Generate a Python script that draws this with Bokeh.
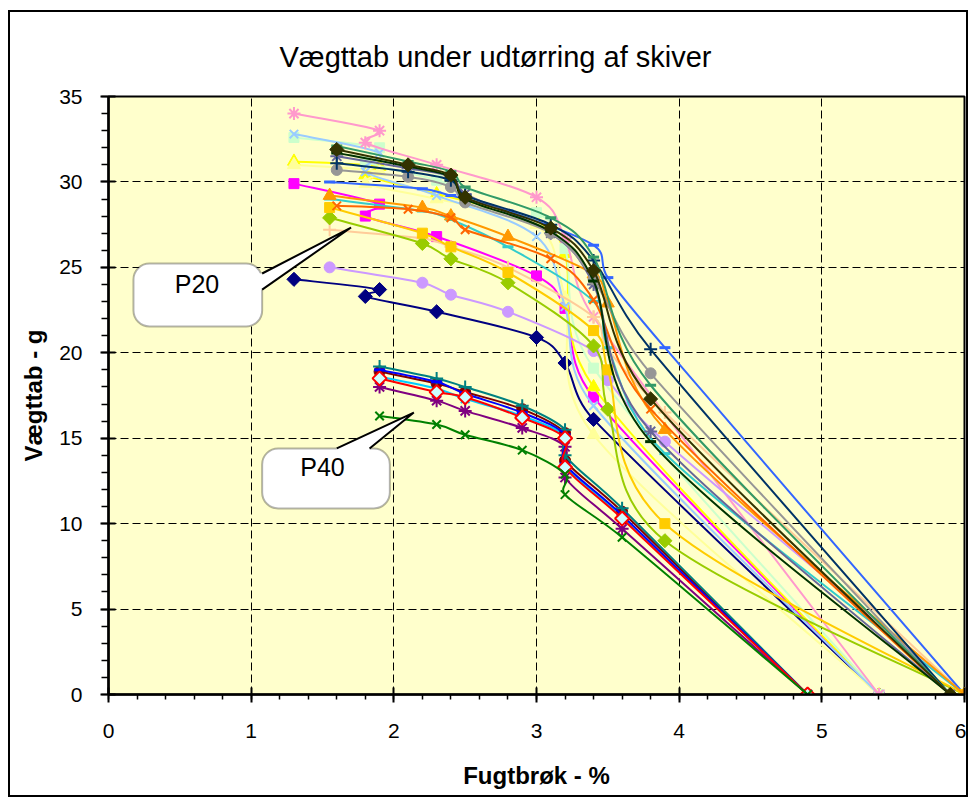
import math
from bokeh.plotting import figure
from bokeh.models import SingleIntervalTicker, Range1d, BoxAnnotation, Label, Title
from bokeh.embed import file_html
from bokeh.resources import INLINE

# ---------------- data ----------------
TITLE = "Vægttab under udtørring af skiver"
X_LABEL = "Fugtbrøk - %"
Y_LABEL = "Vægttab - g"

X_A = [1.3, 1.9, 1.8, 2.3, 3.0, 3.2, 3.4, 5.4]
X_B = [1.55, 2.2, 2.4, 2.8, 3.4, 3.5, 3.9, 6.0]
X_C = [1.6, 2.1, 2.4, 2.5, 3.1, 3.4, 3.8, 5.9]
X_P40 = [1.9, 2.3, 2.5, 2.9, 3.2, 3.2, 3.6, 4.9]

NAVY_Y = [24.3, 23.7, 23.3, 22.4, 20.9, 19.4, 16.1, 0]
MAGENTA_Y = [29.9, 28.7, 28.0, 26.8, 24.5, 22.6, 17.4, 0]
YELLOW_Y = [31.2, 30.9, 30.4, 29.3, 27.7, 25.8, 18.0, 0]
MINT_Y = [32.6, 32.0, 31.2, 30.1, 28.2, 26.1, 19.1, 0]
LTYELLOW_Y = [31.0, 30.6, 29.9, 29.0, 27.5, 23.2, 15.2, 0]
PALEBLUE_Y = [32.8, 31.7, 30.6, 29.2, 26.8, 22.7, 16.9, 0]
ROSE_Y = [34.0, 33.0, 32.3, 31.0, 29.1, 26.7, 22.1, 0]

LAVENDER_Y = [25.0, 24.1, 23.4, 22.4, 20.1, 18.4, 14.8, 0]
TAN_Y = [27.2, 26.7, 26.2, 25.0, 22.1, 20.2, 16.5, 0]
BLUE2_Y = [30.0, 29.6, 29.2, 28.3, 26.3, 24.4, 20.3, 0]
AQUA_Y = [29.0, 28.3, 27.8, 26.2, 23.0, 20.3, 14.1, 0]
LIME_Y = [27.9, 26.4, 25.5, 24.1, 20.4, 16.7, 9.0, 0]
GOLD_Y = [28.5, 27.0, 26.2, 24.7, 21.3, 19.0, 10.0, 0]
ORANGE_Y = [29.2, 28.5, 28.0, 26.8, 24.6, 22.9, 15.5, 0]

ORANGE2_Y = [28.6, 28.4, 27.9, 27.2, 25.5, 23.1, 16.7, 0]
BLUEGRAY_Y = [31.5, 30.8, 30.3, 29.3, 27.0, 24.0, 15.4, 0]
GRAY_Y = [30.7, 30.3, 29.7, 28.8, 27.0, 24.3, 18.8, 0]
DARKTEAL_Y = [31.1, 30.6, 30.1, 29.2, 27.5, 25.4, 20.2, 0]
SEAGREEN_Y = [32.1, 31.2, 30.6, 29.7, 27.9, 25.6, 18.1, 0]
DARKGREEN_Y = [31.7, 30.9, 30.3, 29.0, 27.1, 24.2, 14.8, 0]
OLIVE_Y = [31.9, 31.0, 30.4, 29.1, 27.3, 24.8, 17.3, 0]

CYAN_Y = [18.6, 17.9, 17.3, 16.3, 15.1, 13.4, 10.4, 0]
PURPLE_Y = [18.0, 17.2, 16.6, 15.6, 14.5, 12.7, 9.7, 0]
DARKRED_Y = [18.9, 18.2, 17.7, 16.7, 15.3, 13.7, 10.7, 0]
TEAL_Y = [19.2, 18.5, 18.0, 16.9, 15.5, 14.0, 10.9, 0]
BLUE_Y = [19.0, 18.3, 17.6, 16.5, 15.2, 13.5, 10.5, 0]
RED_Y = [18.5, 17.7, 17.4, 16.2, 15.0, 13.3, 10.3, 0]
GREEN_Y = [16.3, 15.8, 15.2, 14.3, 12.9, 11.7, 9.2, 0]

# (x, y, line colour, marker, marker fill, marker line) in drawing order
SERIES = [
    (X_A, NAVY_Y, "#000080", "diamond", "#000080", "#000080"),
    (X_A, MAGENTA_Y, "#FF00FF", "square", "#FF00FF", "#FF00FF"),
    (X_A, YELLOW_Y, "#FFFF00", "triangle", "#FFFF00", "#FFFF00"),
    (X_P40, CYAN_Y, "#00CCFF", "x", None, "#00CCFF"),
    (X_P40, PURPLE_Y, "#800080", "asterisk", None, "#800080"),
    (X_P40, DARKRED_Y, "#800000", "circle", "#800000", "#800000"),
    (X_P40, TEAL_Y, "#008080", "cross", None, "#008080"),
    (X_P40, BLUE_Y, "#0000FF", "dash", None, "#0000FF"),
    (X_P40, RED_Y, "#FF0000", "diamond", "#CCFFFF", "#FF0000"),
    (X_A, MINT_Y, "#CCFFCC", "square", "#CCFFCC", "#CCFFCC"),
    (X_A, LTYELLOW_Y, "#FFFF99", "triangle", "#FFFF99", "#FFFF99"),
    (X_A, PALEBLUE_Y, "#99CCFF", "x", None, "#99CCFF"),
    (X_A, ROSE_Y, "#FF99CC", "asterisk", None, "#FF99CC"),
    (X_B, LAVENDER_Y, "#CC99FF", "circle", "#CC99FF", "#CC99FF"),
    (X_B, TAN_Y, "#FFCC99", "cross", None, "#FFCC99"),
    (X_B, BLUE2_Y, "#3366FF", "dash", None, "#3366FF"),
    (X_B, AQUA_Y, "#33CCCC", "dash", None, "#33CCCC"),
    (X_B, LIME_Y, "#99CC00", "diamond", "#99CC00", "#99CC00"),
    (X_B, GOLD_Y, "#FFCC00", "square", "#FFCC00", "#FFCC00"),
    (X_B, ORANGE_Y, "#FF9900", "triangle", "#FF9900", "#FF9900"),
    (X_C, ORANGE2_Y, "#FF6600", "x", None, "#FF6600"),
    (X_C, BLUEGRAY_Y, "#666699", "asterisk", None, "#666699"),
    (X_C, GRAY_Y, "#969696", "circle", "#969696", "#969696"),
    (X_C, DARKTEAL_Y, "#003366", "cross", None, "#003366"),
    (X_C, SEAGREEN_Y, "#339966", "dash", None, "#339966"),
    (X_C, DARKGREEN_Y, "#003300", "dash", None, "#003300"),
    (X_C, OLIVE_Y, "#333300", "diamond", "#333300", "#333300"),
    (X_P40, GREEN_Y, "#008000", "x", None, "#008000"),
]

# ---------------- layout ----------------
W, H = 960, 787
ML, MR, MT, MB = 98, 6, 84, 105
FW, FH = W - ML - MR, H - MT - MB
XMAX, YMAX = 6, 35
SX, SY = FW / XMAX, FH / YMAX
FONT = "Liberation Sans"

p = figure(width=W, height=H, output_backend="svg", toolbar_location=None,
           x_range=Range1d(0, XMAX), y_range=Range1d(0, YMAX),
           min_border_left=ML, min_border_right=MR,
           min_border_top=MT, min_border_bottom=MB, title=None)
p.margin = (10, 0, 0, 8)
p.styles = {"border": "2px solid black"}
p.background_fill_color = "#FFFFCC"
p.border_fill_color = "white"
p.outline_line_color = "black"
p.outline_line_width = 2

p.add_layout(Title(text=TITLE, align="left", offset=171, standoff=48,
                   text_font=FONT, text_font_size="29px", text_font_style="normal",
                   text_color="black"), "above")

p.xaxis.ticker = SingleIntervalTicker(interval=1, num_minor_ticks=5)
p.yaxis.ticker = SingleIntervalTicker(interval=5, num_minor_ticks=5)
for ax in (p.xaxis, p.yaxis):
    ax.axis_line_color = "black"
    ax.axis_line_width = 2.5
    ax.major_tick_line_color = "black"
    ax.major_tick_line_width = 2
    ax.minor_tick_line_color = "black"
    ax.minor_tick_line_width = 1.5
    ax.major_tick_in = 7
    ax.major_tick_out = 8
    ax.minor_tick_in = 0
    ax.major_label_text_font = FONT
    ax.major_label_text_font_size = "21px"
    ax.major_label_text_color = "black"
    ax.axis_label_text_font = FONT
    ax.axis_label_text_font_size = "24px"
    ax.axis_label_text_font_style = "bold"
    ax.axis_label_text_color = "black"
p.xaxis.minor_tick_out = 5
p.yaxis.minor_tick_out = 7
p.xaxis.major_label_standoff = 21
p.yaxis.major_label_standoff = 18
p.xaxis.axis_label = X_LABEL
p.yaxis.axis_label = Y_LABEL
p.xaxis.axis_label_standoff = 21
p.yaxis.axis_label_standoff = 9

for g in (p.xgrid, p.ygrid):
    g.grid_line_color = "black"
    g.grid_line_width = 1
    g.grid_line_dash = "8 4"
p.xgrid.ticker = SingleIntervalTicker(interval=1)
p.ygrid.ticker = SingleIntervalTicker(interval=5)


def smooth(xs, ys):
    """Bezier control points for an Excel-like smoothed line (screen metric)."""
    P = [(x * SX, y * SY) for x, y in zip(xs, ys)]
    n = len(P)
    out = {k: [] for k in ("x0", "y0", "x1", "y1", "cx0", "cy0", "cx1", "cy1")}
    for i in range(n - 1):
        p0 = P[i - 1] if i > 0 else P[i]
        p1, p2 = P[i], P[i + 1]
        p3 = P[i + 2] if i + 2 < n else P[i + 1]
        seg = math.dist(p1, p2)
        d02 = math.dist(p0, p2)
        d13 = math.dist(p1, p3)
        f1 = min(1 / 6, 0.5 * seg / d02) if d02 > 0 else 0
        f2 = min(1 / 6, 0.5 * seg / d13) if d13 > 0 else 0
        c1 = (p1[0] + (p2[0] - p0[0]) * f1, p1[1] + (p2[1] - p0[1]) * f1)
        c2 = (p2[0] - (p3[0] - p1[0]) * f2, p2[1] - (p3[1] - p1[1]) * f2)
        out["x0"].append(p1[0] / SX); out["y0"].append(p1[1] / SY)
        out["x1"].append(p2[0] / SX); out["y1"].append(p2[1] / SY)
        out["cx0"].append(c1[0] / SX); out["cy0"].append(c1[1] / SY)
        out["cx1"].append(c2[0] / SX); out["cy1"].append(c2[1] / SY)
    return out


MARKER_SIZE = {"diamond": 10, "square": 10, "triangle": 13, "x": 12,
               "asterisk": 13, "circle": 11, "cross": 13, "dash": 11}

for xs, ys, lc, mk, mfill, mline in SERIES:
    b = smooth(xs, ys)
    p.bezier(x0=b["x0"], y0=b["y0"], x1=b["x1"], y1=b["y1"],
             cx0=b["cx0"], cy0=b["cy0"], cx1=b["cx1"], cy1=b["cy1"],
             line_color=lc, line_width=2)
    kw = dict(size=MARKER_SIZE[mk], line_color=mline)
    if mk == "diamond":
        kw.update(marker="square", angle=math.pi / 4)
    else:
        kw.update(marker=mk)
    if mfill is None:
        kw.update(fill_color=None, line_width=3 if mk == "dash" else 2)
    else:
        kw.update(fill_color=mfill, line_width=2 if mfill != mline else 1)
    p.scatter(xs, ys, **kw)

# ---------------- callouts ----------------
CALLOUTS = [
    dict(box=(0.175, 1.077, 21.54, 25.22), base=[(1.077, 23.70), (1.077, 24.64)],
         inner=[(1.05, 23.70), (1.05, 24.64)], tip=(1.70, 27.33),
         txt=(0.62, 24.05), label="P20"),
    dict(box=(1.077, 1.972, 10.89, 14.40), base=[(1.60, 14.40), (1.83, 14.40)],
         inner=[(1.60, 14.2), (1.83, 14.2)], tip=(2.14, 16.50),
         txt=(1.50, 13.29), label="P40"),
]
for c in CALLOUTS:
    l, r, btm, top = c["box"]
    box = BoxAnnotation(left=l, right=r, bottom=btm, top=top, fill_color="white",
                        fill_alpha=1, line_color="black", line_width=2, border_radius=16)
    p.add_layout(box)
    (bx1, by1), (bx2, by2) = c["base"]
    (ix1, iy1), (ix2, iy2) = c["inner"]
    tx, ty = c["tip"]
    pr = p.patch([ix1, bx1, tx, bx2, ix2], [iy1, by1, ty, by2, iy2],
                 fill_color="white", line_color=None)
    pr.level = "overlay"
    lr = p.line([bx1, tx, bx2], [by1, ty, by2], line_color="black", line_width=2)
    lr.level = "overlay"
    lab = Label(x=c["txt"][0], y=c["txt"][1], text=c["label"], text_align="center",
                text_baseline="middle", text_font=FONT, text_font_size="25px",
                text_color="black", level="overlay")
    p.add_layout(lab)

open("out.html", "w").write(file_html(p, INLINE))
